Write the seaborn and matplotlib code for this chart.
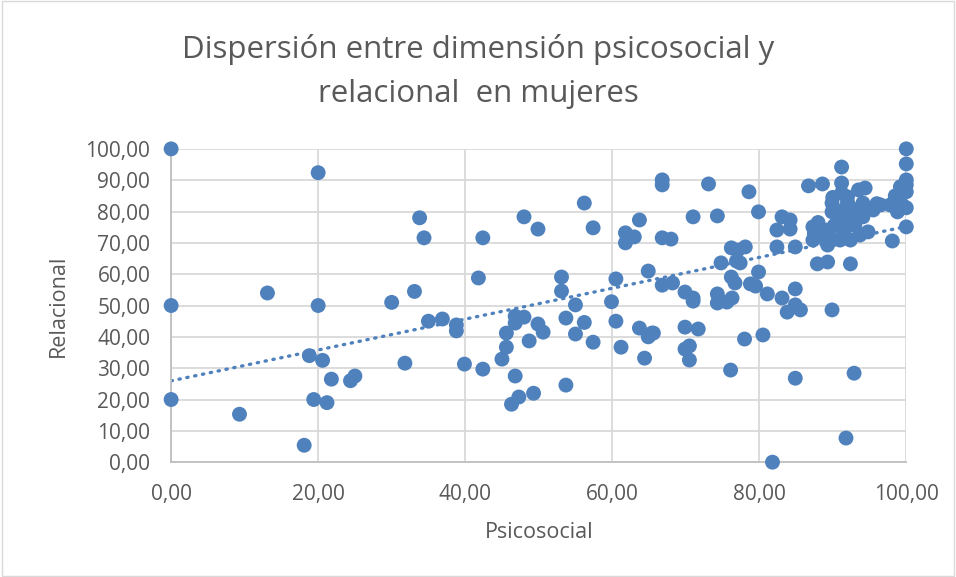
import numpy as np
import pandas as pd
import matplotlib
matplotlib.use("Agg")
import matplotlib.pyplot as plt
import seaborn as sns

psicosocial = [0, 0, 0, 9.3, 13.1, 18.1, 18.8, 19.4, 20, 20, 20.6, 21.2, 21.8, 24.4, 25,
               30, 31.8, 33.1, 33.8, 34.4, 35, 36.9, 38.8, 38.8, 39.9, 41.8, 42.4, 42.4,
               48.0, 49.9, 56.2, 57.4, 61.8, 61.8, 63.0, 63.7, 66.8, 66.8, 66.8, 68.0,
               53.1, 53.1, 55.0, 53.7, 56.2, 59.9, 60.5, 60.5, 64.9, 66.8, 68.2,
               46.8, 46.8, 48.0, 45.6, 45.6, 45.0, 46.8, 46.3, 47.3, 49.3, 48.7, 49.9, 50.6,
               55.0, 57.4, 53.7, 61.2, 63.7, 64.9, 65.4, 64.4,
               73.1, 78.6, 71.0, 74.3, 79.9, 76.2, 78.1, 77.1, 74.8, 76.9, 77.4,
               82.4, 84.9, 82.4, 83.1, 84.2, 84.2, 86.7, 88.6, 91.2, 91.2, 91.2, 92.0, 92.0,
               93.5, 94.4, 89.9, 89.9, 90.6, 94.1, 94.1, 96.5, 97.8,
               100, 100, 100, 100, 100, 100, 100, 99.2, 98.8, 98.1,
               87.3, 87.3, 89.3, 89.3, 91.0, 92.4, 93.7, 94.8, 91.4, 92.8, 94.1,
               87.9, 89.3, 92.4, 79.9, 76.2, 76.7, 78.8, 79.5,
               69.9, 71.0, 71.0, 74.3, 74.3, 75.6, 76.3, 81.1,
               83.1, 83.8, 84.9, 85.6, 84.9, 89.9,
               65.6, 69.9, 71.7, 69.9, 70.5, 70.5, 76.1, 78.0, 80.5, 84.9, 92.9, 91.8, 81.8,
               88.5, 90.2, 91.5, 90.0, 92.5, 95.0,
               88.0, 89.0, 90.5, 91.5, 93.0, 95.5, 96.0, 99.5, 98.5, 92.5, 87.5, 90.0]
relacional = [100, 50, 20, 15.3, 54, 5.4, 34, 20, 92.4, 50, 32.5, 19, 26.5, 26, 27.5,
              51, 31.6, 54.5, 78, 71.6, 45, 45.7, 43.8, 41.9, 31.3, 58.8, 29.7, 71.6,
              78.3, 74.4, 82.7, 74.8, 73.2, 70.0, 71.9, 77.3, 90.1, 88.5, 71.6, 71.2,
              59.1, 54.6, 50.2, 46.0, 44.6, 51.2, 58.5, 45.0, 61.0, 56.5, 57.2,
              46.6, 44.4, 46.3, 41.2, 36.7, 32.9, 27.5, 18.5, 20.8, 22.0, 38.7, 44.1, 41.5,
              40.9, 38.3, 24.6, 36.7, 42.8, 40.0, 41.2, 33.2,
              88.8, 86.3, 78.3, 78.6, 79.9, 68.4, 68.7, 67.7, 63.6, 64.2, 63.6,
              68.7, 68.7, 74.1, 78.3, 77.3, 74.4, 88.2, 88.8, 94.2, 89.1, 85.9, 84.7, 83.1,
              86.9, 87.5, 82.7, 79.9, 78.9, 82.7, 79.9, 82.1, 82.1,
              100, 95.2, 90.1, 88.5, 86.3, 81.2, 75.1, 87.9, 79.9, 70.6,
              75.1, 70.9, 74.1, 69.3, 70.9, 70.9, 72.5, 73.5, 77.3, 78.3, 78.3,
              63.3, 63.9, 63.3, 60.7, 59.1, 57.2, 56.9, 56.2,
              54.3, 52.4, 51.4, 53.7, 50.8, 51.1, 52.4, 53.7,
              52.4, 47.9, 50.2, 48.6, 55.3, 48.6,
              41.2, 43.1, 42.5, 36.1, 37.1, 32.6, 29.4, 39.3, 40.6, 26.8, 28.4, 7.7, 0.0,
              72.0, 75.5, 80.5, 71.0, 76.0, 81.0,
              76.5, 72.5, 76.0, 73.5, 75.5, 80.5, 82.5, 82.0, 85.0, 81.0, 73.0, 84.5]

ticks = [0, 20, 40, 60, 80, 100]
yticks = [0, 10, 20, 30, 40, 50, 60, 70, 80, 90, 100]
title_lines = ["Dispersión entre dimensión psicosocial y", "relacional  en mujeres"]

df = pd.DataFrame({"Psicosocial": psicosocial, "Relacional": relacional})

sns.set_style("white")
plt.rcParams['font.family'] = ['Open Sans', 'DejaVu Sans']

fig = plt.figure(figsize=(9.56, 5.77), dpi=100)
ax = fig.add_axes([0.179, 0.199, 0.769, 0.543])

gray_txt = "#595959"
grid_c = "#d9d9d9"

ax.set_xlim(0, 100)
ax.set_ylim(0, 100)
ax.set_xticks(ticks)
ax.set_yticks(yticks)
ax.set_xticklabels([f"{t:.2f}".replace(".", ",") for t in ticks])
ax.set_yticklabels([f"{t:.2f}".replace(".", ",") for t in yticks])
ax.grid(True, color=grid_c, linewidth=1.3)
ax.set_axisbelow(True)
for s in ["top", "right"]:
    ax.spines[s].set_visible(False)
for s in ["left", "bottom"]:
    ax.spines[s].set_color("#bfbfbf")
    ax.spines[s].set_linewidth(1.3)
ax.tick_params(axis="both", length=0, labelsize=15, colors=gray_txt)
ax.tick_params(axis="x", pad=16)
ax.tick_params(axis="y", pad=15)

sns.scatterplot(data=df, x="Psicosocial", y="Relacional", ax=ax, s=115,
                color="#4f81bd", edgecolor="none", linewidth=0, clip_on=False, zorder=3)

m, b = np.polyfit(np.array(psicosocial), np.array(relacional), 1)
xs = np.array([0, 100])
ax.plot(xs, m * xs + b, color="#4f81bd", linewidth=2.4, linestyle=(0, (0.4, 2.0)),
        dash_capstyle="round", zorder=2)

ax.set_xlabel("Psicosocial", fontsize=15.5, color=gray_txt, labelpad=12)
ax.set_ylabel("Relacional", fontsize=15.5, color=gray_txt, labelpad=12)

fig.text(0.5, 1 - 58 / 577, title_lines[0], ha="center", va="baseline",
         fontsize=22.5, color=gray_txt)
fig.text(0.5, 1 - 102 / 577, title_lines[1], ha="center", va="baseline",
         fontsize=22.5, color=gray_txt)

fig.patches.append(plt.Rectangle((0.002, 0.002), 0.996, 0.996, transform=fig.transFigure,
                                 fill=False, edgecolor="#d9d9d9", linewidth=1))

fig.savefig("out.png", dpi=100)
